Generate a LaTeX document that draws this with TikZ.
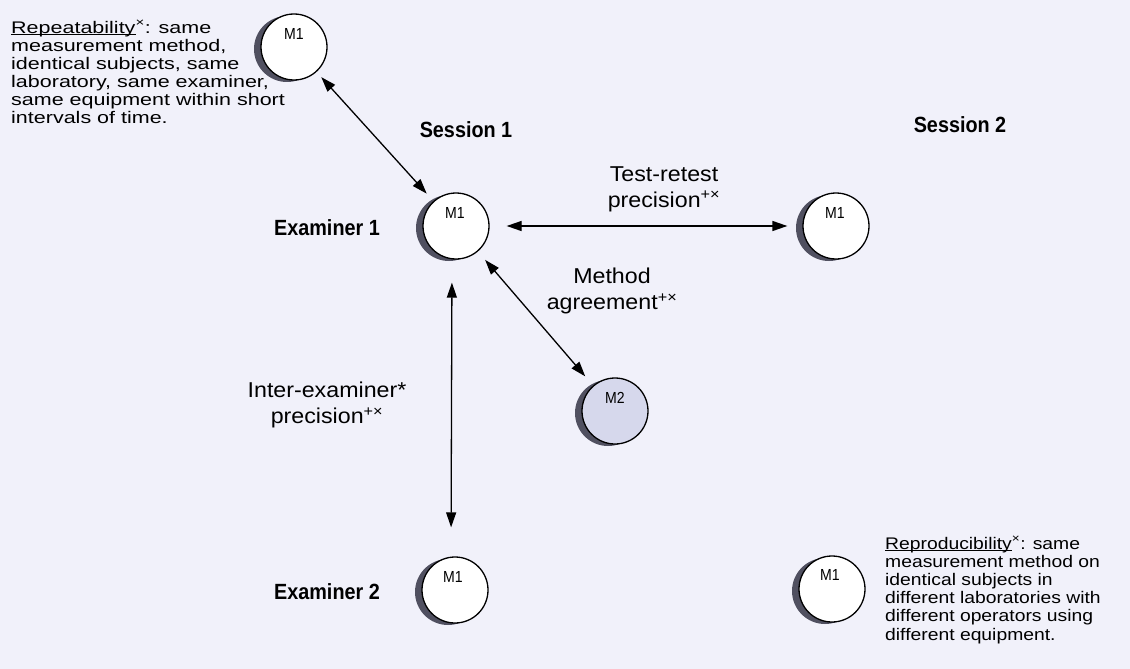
\documentclass[tikz,border=0pt]{standalone}
\usepackage{fontspec}
\setmainfont{Liberation Sans}
\newfontfamily\repfont[FakeStretch=1.28]{Liberation Sans}
\newfontfamily\reprofont[FakeStretch=1.15]{Liberation Sans}
\newfontfamily\labfont[FakeStretch=1.08]{Liberation Sans}
\newfontfamily\headfont[FakeStretch=0.9]{Liberation Sans}
\newfontfamily\mfont[FakeStretch=0.88]{Liberation Sans}
\usetikzlibrary{arrows.meta,shadows,calc}
\definecolor{bg}{RGB}{241,241,250}
\definecolor{shadowc}{RGB}{80,80,96}
\definecolor{mtwo}{RGB}{214,216,236}
\newsavebox\myulbox
\newcommand\myul[1]{\sbox\myulbox{#1}\rlap{\rule[-2.4pt]{\wd\myulbox}{1.1pt}}\usebox\myulbox}
\begin{document}
\begin{tikzpicture}[x=1pt,y=-1pt,
  meas/.style={circle,draw=black,line width=1.3pt,fill=white,minimum size=66pt,inner sep=0pt,
     drop shadow={shadow xshift=-7pt,shadow yshift=-2pt,opacity=1,fill=shadowc}},
  mlab/.style={font=\mfont\fontsize{16}{18}\selectfont,inner sep=0pt},
  head/.style={font=\headfont\bfseries\fontsize{22}{24}\selectfont,inner sep=0pt},
  lab/.style={font=\labfont\fontsize{21.5}{26}\selectfont,align=center,inner sep=0pt},
  conn/.style={line width=1.3pt,{Triangle[length=15pt,width=10pt]}-{Triangle[length=15pt,width=10pt]}},
]
\path[fill=bg] (0,0) rectangle (1130,669);

% measurement circles
\node[meas] (c0) at (294,47) {};
\node[mlab] (c0l) at (294,34) {M1};
\node[meas] (e1) at (456,226) {};
\node[mlab] (e1l) at (455,213) {M1};
\node[meas] (s2) at (836,226) {};
\node[mlab] (s2l) at (835,213) {M1};
\node[meas,fill=mtwo] (m2) at (615,411) {};
\node[mlab] (m2l) at (615,398) {M2};
\node[meas] (e2) at (455,590) {};
\node[mlab] (e2l) at (453,577) {M1};
\node[meas] (r2) at (832,589) {};
\node[mlab] (r2l) at (830,575) {M1};

% connectors
\draw[conn, shorten <=7pt, shorten >=10pt] (c0) -- (e1);
\draw[conn, shorten <=17pt, shorten >=15pt] (e1) -- (s2);
\draw[conn, shorten <=11pt, shorten >=12pt] (e1) -- (m2);
\draw[conn, shorten <=23pt, shorten >=29pt] ([xshift=-4pt]e1.south) -- ([xshift=-4pt]e2.north);

% headings
\node[head] (sess1) at (466,130) {Session 1};
\node[head] (sess2) at (960,125) {Session 2};
\node[head] (ex1) at (327,228) {Examiner 1};
\node[head] (ex2) at (327,592) {Examiner 2};

% connector labels
\node[lab] (tr) at (664,189) {Test-retest\\precision\textsuperscript{+×}};
\node[lab] (ma) at (612,291) {Method\\agreement\textsuperscript{+×}};
\node[lab] (ie) at (327,405) {Inter-examiner*\\precision\textsuperscript{+×}};

% definitions
\node[anchor=north west, align=left, inner sep=0pt, font=\repfont\fontsize{16.8}{18}\selectfont] (rep) at (11,20)
  {\myul{Repeatability}\textsuperscript{×}: same\\measurement method,\\identical subjects, same\\laboratory, same examiner,\\same equipment within short\\intervals of time.};
\node[anchor=north west, align=left, inner sep=0pt, font=\reprofont\fontsize{16.8}{18.2}\selectfont] (repro) at (885,536)
  {\myul{Reproducibility}\textsuperscript{×}: same\\measurement method on\\identical subjects in\\different laboratories with\\different operators using\\different equipment.};
\end{tikzpicture}
\end{document}
